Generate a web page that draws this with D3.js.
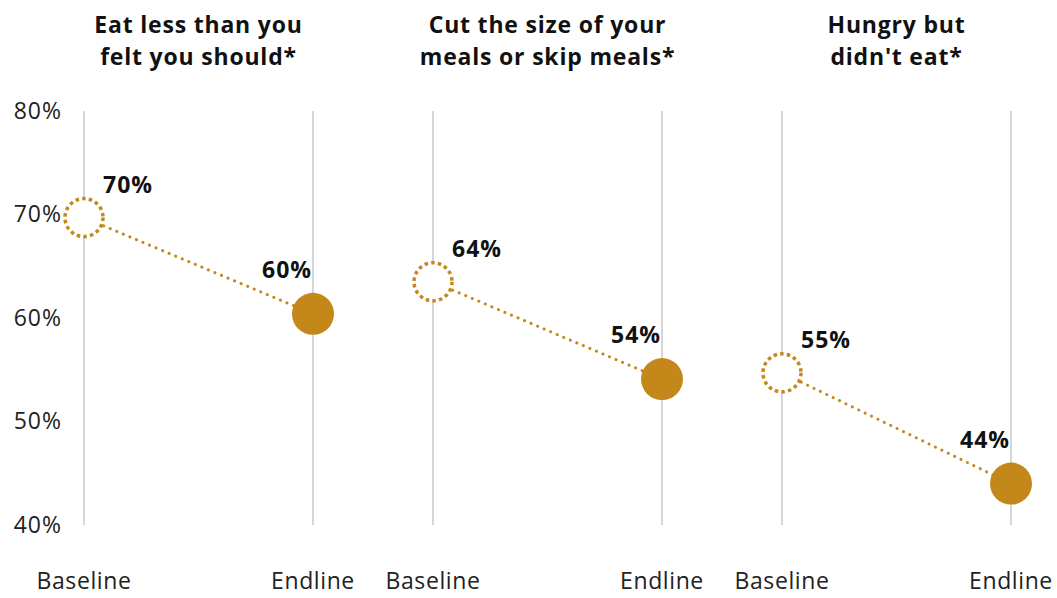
<!DOCTYPE html>
<html>
<head>
<meta charset="utf-8">
<script src="https://cdn.jsdelivr.net/npm/d3@7"></script>
<style>
  body { margin: 0; background: #fff; }
  text { font-family: "Open Sans", "DejaVu Sans", sans-serif; }
</style>
</head>
<body>
<div id="chart"></div>
<script>
/*
 * Chart data.
 */
var panels = [
    ["Eat less than you", "felt you should*"]
  , ["Cut the size of your", "meals or skip meals*"]
  , ["Hungry but", "didn't eat*"]
  ]
  , rounds = ["Baseline", "Endline"]
  , baseline = [69.7, 63.5, 54.7]
  , endline = [60.4, 54.1, 44.0]
  , yTicks = [40, 50, 60, 70, 80];

var width = 1057
  , height = 598
  , gold = "#C4881A";

var svg = d3.select('#chart').append('svg')
  .attr('width', width)
  .attr('height', height);

/*
 * Scales: panels laid out left to right,
 * baseline / endline inside each panel.
 */
var y = d3.scaleLinear().domain([40, 80]).range([525, 111]);

var xPanel = d3.scalePoint()
  .domain(d3.range(panels.length))
  .range([84, 782]);

var xRound = d3.scalePoint()
  .domain(rounds)
  .range([0, 229]);

/*
 * Y axis labels only.
 */
var yAxis = d3.axisLeft(y)
  .tickValues(yTicks)
  .tickFormat(function(d) { return d + "%"; })
  .tickSize(0)
  .tickPadding(0);

svg.append('g')
  .attr('transform', 'translate(62,0)')
  .call(yAxis)
  .call(function(g) { g.select('.domain').remove(); })
  .selectAll('text')
  .attr('font-size', 23)
  .attr('letter-spacing', 1)
  .attr('font-family', '"Open Sans", sans-serif')
  .attr('fill', '#222');

/*
 * One group per panel.
 */
var rows = panels.map(function(t, i) {
  return { title: t, values: [baseline[i], endline[i]] };
});

var panel = svg.selectAll('g.panel')
  .data(rows)
  .enter()
  .append('g')
  .attr('class', 'panel')
  .attr('transform', function(d, i) {
    return 'translate(' + xPanel(i) + ',0)';
  });

// titles
panel.append('text')
  .attr('x', xRound.range()[1] / 2)
  .attr('text-anchor', 'middle')
  .attr('font-size', 23)
  .attr('letter-spacing', 0.8)
  .attr('font-weight', 'bold')
  .attr('fill', '#111')
  .selectAll('tspan')
  .data(function(d) { return d.title; })
  .enter()
  .append('tspan')
  .attr('x', xRound.range()[1] / 2)
  .attr('y', function(d, i) { return 33 + i * 32; })
  .text(function(d) { return d; });

// vertical guide lines
panel.selectAll('line.guide')
  .data(rounds)
  .enter()
  .append('line')
  .attr('class', 'guide')
  .attr('x1', function(d) { return xRound(d); })
  .attr('x2', function(d) { return xRound(d); })
  .attr('y1', y(80))
  .attr('y2', y(40))
  .attr('stroke', '#c8c8c8')
  .attr('stroke-width', 1.5);

// category labels under the axis
panel.selectAll('text.round')
  .data(rounds)
  .enter()
  .append('text')
  .attr('class', 'round')
  .attr('x', function(d) { return xRound(d); })
  .attr('y', 589)
  .attr('text-anchor', 'middle')
  .attr('font-size', 23)
  .attr('letter-spacing', 0.6)
  .attr('fill', '#222')
  .text(function(d) { return d; });

// dotted connector
panel.append('line')
  .attr('x1', xRound("Baseline"))
  .attr('y1', function(d) { return y(d.values[0]); })
  .attr('x2', xRound("Endline"))
  .attr('y2', function(d) { return y(d.values[1]); })
  .attr('stroke', gold)
  .attr('stroke-width', 3)
  .attr('stroke-linecap', 'round')
  .attr('stroke-dasharray', '0.1 7');

// baseline: hollow dotted circle
panel.append('circle')
  .attr('cx', xRound("Baseline"))
  .attr('cy', function(d) { return y(d.values[0]); })
  .attr('r', 19)
  .attr('fill', '#fff')
  .attr('stroke', gold)
  .attr('stroke-width', 3.5)
  .attr('stroke-dasharray', '3.5 3.2');

// endline: filled circle
panel.append('circle')
  .attr('cx', xRound("Endline"))
  .attr('cy', function(d) { return y(d.values[1]); })
  .attr('r', 21)
  .attr('fill', gold);

// value labels
panel.append('text')
  .attr('x', xRound("Baseline") + 19)
  .attr('y', function(d) { return y(d.values[0]) - 25; })
  .attr('font-size', 23)
  .attr('letter-spacing', 1)
  .attr('font-weight', 'bold')
  .attr('fill', '#111')
  .text(function(d) { return Math.round(d.values[0]) + "%"; });

panel.append('text')
  .attr('x', xRound("Endline") - 26)
  .attr('y', function(d) { return y(d.values[1]) - 36; })
  .attr('text-anchor', 'middle')
  .attr('font-size', 23)
  .attr('letter-spacing', 1)
  .attr('font-weight', 'bold')
  .attr('fill', '#111')
  .text(function(d) { return Math.round(d.values[1]) + "%"; });
</script>
</body>
</html>
